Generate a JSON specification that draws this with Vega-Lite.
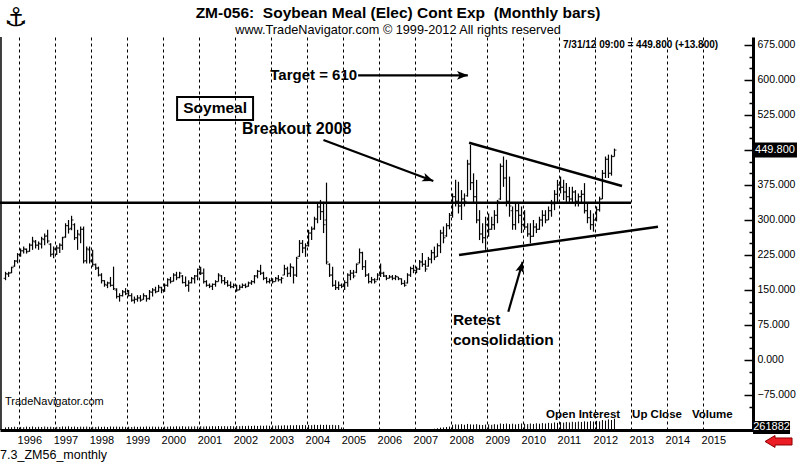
{
"$schema": "https://vega.github.io/schema/vega-lite/v6.json",
"width": 753, "height": 393,
"autosize": {"type": "none"},
"padding": {"left": 0, "top": 37, "right": 48, "bottom": 33},
"background": "white",
"config": {"view": {"stroke": null}, "font": "Liberation Sans"},
"datasets": {
"bars": [
{"d":"1995-08","o":175,"h":189,"l":171,"c":185,"v":60000},
{"d":"1995-09","o":184,"h":189,"l":178,"c":186,"v":70000},
{"d":"1995-10","o":187,"h":200,"l":186,"c":198,"v":65000},
{"d":"1995-11","o":201,"h":214,"l":200,"c":212,"v":75000},
{"d":"1995-12","o":212,"h":229,"l":207,"c":226,"v":68000},
{"d":"1996-01","o":226,"h":239,"l":221,"c":234,"v":72000},
{"d":"1996-02","o":234,"h":243,"l":228,"c":238,"v":64000},
{"d":"1996-03","o":237,"h":239,"l":228,"c":232,"v":78000},
{"d":"1996-04","o":233,"h":250,"l":232,"c":246,"v":70000},
{"d":"1996-05","o":246,"h":264,"l":236,"c":255,"v":82000},
{"d":"1996-06","o":253,"h":257,"l":239,"c":246,"v":66000},
{"d":"1996-07","o":246,"h":254,"l":236,"c":250,"v":75000},
{"d":"1996-08","o":248,"h":264,"l":239,"c":260,"v":70000},
{"d":"1996-09","o":258,"h":271,"l":246,"c":265,"v":80000},
{"d":"1996-10","o":266,"h":279,"l":250,"c":255,"v":72000},
{"d":"1996-11","o":248,"h":250,"l":221,"c":226,"v":76000},
{"d":"1996-12","o":227,"h":243,"l":218,"c":238,"v":68000},
{"d":"1997-01","o":237,"h":246,"l":225,"c":240,"v":74000},
{"d":"1997-02","o":240,"h":250,"l":229,"c":246,"v":70000},
{"d":"1997-03","o":246,"h":264,"l":236,"c":262,"v":82000},
{"d":"1997-04","o":264,"h":293,"l":262,"c":288,"v":76000},
{"d":"1997-05","o":288,"h":300,"l":271,"c":280,"v":85000},
{"d":"1997-06","o":282,"h":309,"l":278,"c":300,"v":72000},
{"d":"1997-07","o":290,"h":293,"l":257,"c":262,"v":80000},
{"d":"1997-08","o":262,"h":279,"l":236,"c":270,"v":70000},
{"d":"1997-09","o":268,"h":286,"l":250,"c":280,"v":78000},
{"d":"1997-10","o":280,"h":286,"l":207,"c":212,"v":74000},
{"d":"1997-11","o":213,"h":243,"l":207,"c":238,"v":80000},
{"d":"1997-12","o":236,"h":243,"l":207,"c":212,"v":72000},
{"d":"1998-01","o":214,"h":236,"l":200,"c":205,"v":76000},
{"d":"1998-02","o":204,"h":207,"l":193,"c":197,"v":70000},
{"d":"1998-03","o":197,"h":200,"l":179,"c":182,"v":80000},
{"d":"1998-04","o":182,"h":186,"l":164,"c":170,"v":72000},
{"d":"1998-05","o":170,"h":171,"l":157,"c":162,"v":78000},
{"d":"1998-06","o":160,"h":168,"l":154,"c":165,"v":70000},
{"d":"1998-07","o":165,"h":178,"l":157,"c":160,"v":82000},
{"d":"1998-08","o":160,"h":200,"l":150,"c":153,"v":76000},
{"d":"1998-09","o":150,"h":154,"l":132,"c":136,"v":80000},
{"d":"1998-10","o":136,"h":143,"l":125,"c":138,"v":74000},
{"d":"1998-11","o":138,"h":150,"l":136,"c":146,"v":78000},
{"d":"1998-12","o":146,"h":154,"l":139,"c":142,"v":72000},
{"d":"1999-01","o":142,"h":150,"l":136,"c":138,"v":76000},
{"d":"1999-02","o":138,"h":143,"l":125,"c":128,"v":70000},
{"d":"1999-03","o":128,"h":136,"l":121,"c":130,"v":80000},
{"d":"1999-04","o":130,"h":139,"l":125,"c":133,"v":72000},
{"d":"1999-05","o":133,"h":139,"l":125,"c":128,"v":78000},
{"d":"1999-06","o":130,"h":143,"l":129,"c":138,"v":74000},
{"d":"1999-07","o":137,"h":139,"l":125,"c":131,"v":82000},
{"d":"1999-08","o":132,"h":150,"l":129,"c":146,"v":76000},
{"d":"1999-09","o":145,"h":154,"l":136,"c":150,"v":80000},
{"d":"1999-10","o":150,"h":157,"l":143,"c":146,"v":74000},
{"d":"1999-11","o":147,"h":161,"l":146,"c":156,"v":78000},
{"d":"1999-12","o":155,"h":157,"l":143,"c":150,"v":72000},
{"d":"2000-01","o":150,"h":164,"l":146,"c":160,"v":80000},
{"d":"2000-02","o":160,"h":175,"l":157,"c":172,"v":76000},
{"d":"2000-03","o":172,"h":178,"l":164,"c":168,"v":84000},
{"d":"2000-04","o":169,"h":186,"l":168,"c":182,"v":78000},
{"d":"2000-05","o":182,"h":189,"l":171,"c":176,"v":86000},
{"d":"2000-06","o":177,"h":189,"l":175,"c":186,"v":80000},
{"d":"2000-07","o":180,"h":182,"l":164,"c":166,"v":88000},
{"d":"2000-08","o":166,"h":179,"l":157,"c":160,"v":78000},
{"d":"2000-09","o":160,"h":171,"l":146,"c":165,"v":84000},
{"d":"2000-10","o":166,"h":178,"l":164,"c":175,"v":80000},
{"d":"2000-11","o":174,"h":182,"l":164,"c":180,"v":86000},
{"d":"2000-12","o":180,"h":196,"l":171,"c":194,"v":82000},
{"d":"2001-01","o":194,"h":200,"l":182,"c":186,"v":88000},
{"d":"2001-02","o":186,"h":196,"l":164,"c":168,"v":80000},
{"d":"2001-03","o":168,"h":171,"l":157,"c":160,"v":86000},
{"d":"2001-04","o":160,"h":164,"l":154,"c":158,"v":82000},
{"d":"2001-05","o":158,"h":164,"l":150,"c":162,"v":90000},
{"d":"2001-06","o":162,"h":171,"l":157,"c":168,"v":84000},
{"d":"2001-07","o":168,"h":186,"l":168,"c":182,"v":92000},
{"d":"2001-08","o":180,"h":182,"l":164,"c":170,"v":86000},
{"d":"2001-09","o":170,"h":178,"l":161,"c":166,"v":90000},
{"d":"2001-10","o":166,"h":171,"l":157,"c":160,"v":84000},
{"d":"2001-11","o":160,"h":168,"l":154,"c":157,"v":92000},
{"d":"2001-12","o":157,"h":164,"l":154,"c":160,"v":86000},
{"d":"2002-01","o":160,"h":161,"l":146,"c":150,"v":94000},
{"d":"2002-02","o":150,"h":161,"l":150,"c":156,"v":88000},
{"d":"2002-03","o":156,"h":164,"l":154,"c":160,"v":96000},
{"d":"2002-04","o":160,"h":164,"l":154,"c":157,"v":90000},
{"d":"2002-05","o":158,"h":168,"l":157,"c":165,"v":98000},
{"d":"2002-06","o":165,"h":171,"l":161,"c":168,"v":92000},
{"d":"2002-07","o":168,"h":182,"l":164,"c":180,"v":100000},
{"d":"2002-08","o":180,"h":193,"l":175,"c":190,"v":94000},
{"d":"2002-09","o":190,"h":204,"l":182,"c":186,"v":102000},
{"d":"2002-10","o":186,"h":189,"l":171,"c":175,"v":96000},
{"d":"2002-11","o":175,"h":178,"l":164,"c":168,"v":104000},
{"d":"2002-12","o":168,"h":175,"l":164,"c":170,"v":98000},
{"d":"2003-01","o":170,"h":175,"l":164,"c":168,"v":104000},
{"d":"2003-02","o":168,"h":178,"l":168,"c":175,"v":100000},
{"d":"2003-03","o":174,"h":182,"l":168,"c":172,"v":108000},
{"d":"2003-04","o":172,"h":178,"l":164,"c":175,"v":102000},
{"d":"2003-05","o":182,"h":204,"l":182,"c":196,"v":110000},
{"d":"2003-06","o":195,"h":200,"l":178,"c":185,"v":104000},
{"d":"2003-07","o":186,"h":207,"l":178,"c":200,"v":112000},
{"d":"2003-08","o":198,"h":200,"l":164,"c":182,"v":106000},
{"d":"2003-09","o":182,"h":221,"l":178,"c":218,"v":114000},
{"d":"2003-10","o":222,"h":257,"l":221,"c":250,"v":108000},
{"d":"2003-11","o":250,"h":257,"l":229,"c":240,"v":116000},
{"d":"2003-12","o":240,"h":250,"l":221,"c":245,"v":110000},
{"d":"2004-01","o":245,"h":279,"l":243,"c":272,"v":118000},
{"d":"2004-02","o":272,"h":286,"l":257,"c":280,"v":112000},
{"d":"2004-03","o":282,"h":307,"l":279,"c":302,"v":120000},
{"d":"2004-04","o":302,"h":336,"l":293,"c":328,"v":114000},
{"d":"2004-05","o":328,"h":343,"l":300,"c":318,"v":122000},
{"d":"2004-06","o":318,"h":339,"l":272,"c":290,"v":116000},
{"d":"2004-07","o":300,"h":380,"l":205,"c":210,"v":120000},
{"d":"2004-08","o":205,"h":207,"l":178,"c":182,"v":112000},
{"d":"2004-09","o":182,"h":200,"l":157,"c":160,"v":118000},
{"d":"2004-10","o":160,"h":171,"l":150,"c":155,"v":110000},
{"d":"2004-11","o":155,"h":168,"l":150,"c":160,"v":114000},
{"d":"2004-12","o":160,"h":164,"l":154,"c":158,"v":60000},
{"d":"2005-01","o":158,"h":171,"l":150,"c":166},
{"d":"2005-02","o":166,"h":186,"l":157,"c":182},
{"d":"2005-03","o":182,"h":193,"l":171,"c":186},
{"d":"2005-04","o":186,"h":193,"l":175,"c":180},
{"d":"2005-05","o":188,"h":207,"l":186,"c":205},
{"d":"2005-06","o":208,"h":239,"l":207,"c":230},
{"d":"2005-07","o":230,"h":232,"l":193,"c":200},
{"d":"2005-08","o":200,"h":214,"l":178,"c":182},
{"d":"2005-09","o":182,"h":186,"l":164,"c":168},
{"d":"2005-10","o":168,"h":178,"l":164,"c":172},
{"d":"2005-11","o":172,"h":175,"l":164,"c":168},
{"d":"2005-12","o":172,"h":186,"l":171,"c":182},
{"d":"2006-01","o":182,"h":207,"l":178,"c":186},
{"d":"2006-02","o":186,"h":189,"l":178,"c":180},
{"d":"2006-03","o":180,"h":182,"l":171,"c":175},
{"d":"2006-04","o":175,"h":182,"l":175,"c":178},
{"d":"2006-05","o":178,"h":182,"l":171,"c":175},
{"d":"2006-06","o":175,"h":182,"l":171,"c":179},
{"d":"2006-07","o":178,"h":178,"l":171,"c":174},
{"d":"2006-08","o":174,"h":175,"l":161,"c":164},
{"d":"2006-09","o":164,"h":171,"l":157,"c":160},
{"d":"2006-10","o":165,"h":186,"l":164,"c":182},
{"d":"2006-11","o":182,"h":200,"l":178,"c":196},
{"d":"2006-12","o":196,"h":204,"l":186,"c":192},
{"d":"2007-01","o":192,"h":200,"l":186,"c":195},
{"d":"2007-02","o":195,"h":214,"l":193,"c":210},
{"d":"2007-03","o":210,"h":229,"l":200,"c":205},
{"d":"2007-04","o":205,"h":214,"l":189,"c":195},
{"d":"2007-05","o":201,"h":221,"l":200,"c":216},
{"d":"2007-06","o":216,"h":236,"l":207,"c":230},
{"d":"2007-07","o":230,"h":243,"l":214,"c":220,"v":30000},
{"d":"2007-08","o":222,"h":250,"l":221,"c":245,"v":40000},
{"d":"2007-09","o":245,"h":279,"l":229,"c":272,"v":55000},
{"d":"2007-10","o":272,"h":286,"l":250,"c":262,"v":60000},
{"d":"2007-11","o":266,"h":293,"l":264,"c":288,"v":70000},
{"d":"2007-12","o":288,"h":315,"l":280,"c":310,"v":80000},
{"d":"2008-01","o":310,"h":357,"l":305,"c":350,"v":120000},
{"d":"2008-02","o":350,"h":386,"l":329,"c":340,"v":130000},
{"d":"2008-03","o":340,"h":382,"l":314,"c":330,"v":125000},
{"d":"2008-04","o":330,"h":364,"l":300,"c":345,"v":135000},
{"d":"2008-05","o":345,"h":357,"l":329,"c":340,"v":120000},
{"d":"2008-06","o":352,"h":429,"l":350,"c":420,"v":140000},
{"d":"2008-07","o":420,"h":461,"l":364,"c":380,"v":130000},
{"d":"2008-08","o":380,"h":400,"l":336,"c":350,"v":125000},
{"d":"2008-09","o":350,"h":386,"l":293,"c":300,"v":135000},
{"d":"2008-10","o":300,"h":321,"l":257,"c":270,"v":120000},
{"d":"2008-11","o":270,"h":293,"l":250,"c":262,"v":115000},
{"d":"2008-12","o":262,"h":307,"l":236,"c":290,"v":125000},
{"d":"2009-01","o":290,"h":314,"l":264,"c":280,"v":130000},
{"d":"2009-02","o":280,"h":307,"l":279,"c":290,"v":120000},
{"d":"2009-03","o":290,"h":321,"l":279,"c":310,"v":135000},
{"d":"2009-04","o":310,"h":343,"l":293,"c":340,"v":125000},
{"d":"2009-05","o":345,"h":421,"l":343,"c":415,"v":150000},
{"d":"2009-06","o":415,"h":436,"l":371,"c":390,"v":140000},
{"d":"2009-07","o":390,"h":429,"l":329,"c":340,"v":150000},
{"d":"2009-08","o":340,"h":393,"l":307,"c":330,"v":135000},
{"d":"2009-09","o":320,"h":329,"l":279,"c":290,"v":145000},
{"d":"2009-10","o":290,"h":336,"l":279,"c":320,"v":130000},
{"d":"2009-11","o":320,"h":336,"l":293,"c":310,"v":140000},
{"d":"2009-12","o":310,"h":329,"l":272,"c":290,"v":150000},
{"d":"2010-01","o":290,"h":321,"l":279,"c":285,"v":145000},
{"d":"2010-02","o":285,"h":293,"l":264,"c":270,"v":135000},
{"d":"2010-03","o":270,"h":293,"l":250,"c":265,"v":150000},
{"d":"2010-04","o":265,"h":300,"l":264,"c":285,"v":140000},
{"d":"2010-05","o":285,"h":293,"l":272,"c":280,"v":155000},
{"d":"2010-06","o":280,"h":307,"l":279,"c":300,"v":145000},
{"d":"2010-07","o":300,"h":321,"l":286,"c":310,"v":160000},
{"d":"2010-08","o":310,"h":321,"l":293,"c":300,"v":150000},
{"d":"2010-09","o":300,"h":329,"l":300,"c":320,"v":165000},
{"d":"2010-10","o":320,"h":343,"l":307,"c":335,"v":155000},
{"d":"2010-11","o":335,"h":364,"l":321,"c":355,"v":175000},
{"d":"2010-12","o":355,"h":386,"l":336,"c":375,"v":165000},
{"d":"2011-01","o":375,"h":393,"l":357,"c":370,"v":180000},
{"d":"2011-02","o":370,"h":386,"l":343,"c":360,"v":170000},
{"d":"2011-03","o":360,"h":379,"l":336,"c":350,"v":185000},
{"d":"2011-04","o":350,"h":371,"l":336,"c":345,"v":175000},
{"d":"2011-05","o":345,"h":371,"l":336,"c":360,"v":190000},
{"d":"2011-06","o":360,"h":364,"l":329,"c":340,"v":180000},
{"d":"2011-07","o":340,"h":357,"l":329,"c":350,"v":195000},
{"d":"2011-08","o":350,"h":364,"l":336,"c":355,"v":185000},
{"d":"2011-09","o":355,"h":379,"l":314,"c":320,"v":200000},
{"d":"2011-10","o":320,"h":336,"l":293,"c":305,"v":190000},
{"d":"2011-11","o":305,"h":321,"l":279,"c":290,"v":205000},
{"d":"2011-12","o":290,"h":314,"l":275,"c":300,"v":195000},
{"d":"2012-01","o":300,"h":329,"l":297,"c":322,"v":210000},
{"d":"2012-02","o":322,"h":350,"l":318,"c":345,"v":200000},
{"d":"2012-03","o":345,"h":407,"l":345,"c":400,"v":230000},
{"d":"2012-04","o":400,"h":436,"l":390,"c":430,"v":215000},
{"d":"2012-05","o":430,"h":440,"l":390,"c":400,"v":245000},
{"d":"2012-06","o":400,"h":440,"l":395,"c":436,"v":230000},
{"d":"2012-07","o":436,"h":453,"l":436,"c":449.8,"v":261882}
],
"tl": [
{"x":"1995-06-21","x2":"2013-01-01","y":337,"y2":337},
{"x":"2008-07-02","x2":"2012-10-01","y":465.6,"y2":372.9},
{"x":"2008-03-22","x2":"2013-10-01","y":225,"y2":285.6}
],
"ar": [
{"x":"2005-06-02","x2":"2008-06-19","y":610,"y2":610},
{"x":"2004-06-15","x2":"2007-07-05","y":471.4,"y2":383.6},
{"x":"2009-08-04","x2":"2009-12-28","y":103.5,"y2":210.6}
]
},
"layer": [
{
"resolve": {"scale": {"x": "shared", "y": "shared"}, "axis": {"x": "independent", "y": "independent"}},
"layer": [
{"data": {"name": "bars"},
 "mark": {"type": "rule", "color": "black", "strokeWidth": 1.2, "xOffset": 1.5},
 "encoding": {
  "x": {"field": "d", "type": "temporal",
        "scale": {"domain": [{"year":1995,"month":6,"date":21},{"year":2016,"month":5,"date":22}]},
        "axis": {"orient": "bottom", "title": null, "format": "%Y",
                 "values": [{"year":1996},{"year":1997},{"year":1998},{"year":1999},{"year":2000},{"year":2001},{"year":2002},{"year":2003},{"year":2004},{"year":2005},{"year":2006},{"year":2007},{"year":2008},{"year":2009},{"year":2010},{"year":2011},{"year":2012},{"year":2013},{"year":2014},{"year":2015}],
                 "grid": true, "gridColor": "black", "gridDash": [3,3], "gridWidth": 1, "gridOpacity": 1,
                 "domainColor": "black", "domainWidth": 3, "ticks": false, "tickSize": 0,
                 "labelAlign": "left", "labelOffset": -2, "labelPadding": 4, "labelFontSize": 11, "labelColor": "black",
                 "labelOverlap": false, "labelBound": false, "labelFlush": false}},
  "y": {"field": "l", "type": "quantitative",
        "scale": {"domain": [-150, 692.1], "nice": false, "zero": false},
        "axis": {"orient": "right", "title": null,
                 "values": [-100,-75,-50,-25,0,25,50,75,100,125,150,175,200,225,250,275,300,325,350,375,400,425,450,475,500,525,550,575,600,625,650,675],
                 "labelExpr": "datum.value % 75 === 0 && datum.value !== 450 ? format(datum.value, '.3f') : ''",
                 "domainColor": "black", "domainWidth": 3, "tickColor": "black", "tickWidth": 1.5,
                 "tickSize": {"condition": {"test": "datum.value % 75 === 0", "value": -9}, "value": -4},
                 "labelPadding": 13, "labelFontSize": 10.5, "labelColor": "black", "labelBaseline": "middle",
                 "grid": false, "labelOverlap": false, "labelBound": false, "labelFlush": false}},
  "y2": {"field": "h"}
 }},
{"data": {"name": "bars"},
 "mark": {"type": "tick", "orient": "horizontal", "color": "black", "size": 2, "thickness": 1.2, "xOffset": 0.5},
 "encoding": {"x": {"field": "d", "type": "temporal", "axis": null}, "y": {"field": "o", "type": "quantitative", "axis": null}}},
{"data": {"name": "bars"},
 "mark": {"type": "tick", "orient": "horizontal", "color": "black", "size": 2, "thickness": 1.2, "xOffset": 2.5},
 "encoding": {"x": {"field": "d", "type": "temporal", "axis": null}, "y": {"field": "c", "type": "quantitative", "axis": null}}},
{"data": {"name": "tl"},
 "mark": {"type": "rule", "color": "black", "strokeWidth": 2.5},
 "encoding": {"x": {"field": "x", "type": "temporal", "axis": null}, "x2": {"field": "x2"}, "y": {"field": "y", "type": "quantitative", "axis": null}, "y2": {"field": "y2"}}},
{"data": {"name": "ar"},
 "mark": {"type": "rule", "color": "black", "strokeWidth": 2.2},
 "encoding": {"x": {"field": "x", "type": "temporal", "axis": null}, "x2": {"field": "x2"}, "y": {"field": "y", "type": "quantitative", "axis": null}, "y2": {"field": "y2"}}},
{"data": {"values": [{}]},
 "mark": {"type": "rule", "color": "black", "strokeWidth": 1.5},
 "encoding": {"x": {"datum": {"year":1995,"month":7,"date":1}, "type": "temporal", "axis": null}}},
{"data": {"values": [{}]},
 "mark": {"type": "point", "shape": "M 0 0 L 0.4 1 L 0 0.75 L -0.4 1 Z", "filled": true, "color": "black", "opacity": 1, "size": 484, "angle": 90},
 "encoding": {"x": {"datum": {"year":2008,"month":6,"date":21}, "type": "temporal", "axis": null}, "y": {"datum": 610, "type": "quantitative", "axis": null}}},
{"data": {"values": [{}]},
 "mark": {"type": "point", "shape": "M 0 0 L 0.4 1 L 0 0.75 L -0.4 1 Z", "filled": true, "color": "black", "opacity": 1, "size": 484, "angle": 110.4},
 "encoding": {"x": {"datum": {"year":2007,"month":7,"date":5}, "type": "temporal", "axis": null}, "y": {"datum": 383.6, "type": "quantitative", "axis": null}}},
{"data": {"values": [{}]},
 "mark": {"type": "point", "shape": "M 0 0 L 0.4 1 L 0 0.75 L -0.4 1 Z", "filled": true, "color": "black", "opacity": 1, "size": 484, "angle": 16.1},
 "encoding": {"x": {"datum": {"year":2009,"month":12,"date":28}, "type": "temporal", "axis": null}, "y": {"datum": 210.6, "type": "quantitative", "axis": null}}},
{"data": {"values": [{}]},
 "mark": {"type": "rect", "fill": "white", "fillOpacity": 0, "stroke": "black", "strokeWidth": 2},
 "encoding": {"x": {"datum": {"year":2000,"month":5,"date":22}, "type": "temporal", "axis": null}, "x2": {"datum": {"year":2002,"month":7,"date":2}}, "y": {"datum": 563.6, "type": "quantitative", "axis": null}, "y2": {"datum": 514.3}}},
{"data": {"values": [{}]},
 "mark": {"type": "text", "text": "Soymeal", "fontSize": 15.5, "fontWeight": "bold", "align": "center", "baseline": "middle", "color": "black"},
 "encoding": {"x": {"datum": {"year":2001,"month":6,"date":12}, "type": "temporal", "axis": null}, "y": {"datum": 539, "type": "quantitative", "axis": null}}},
{"data": {"values": [{}]},
 "mark": {"type": "text", "text": "Target = 610", "fontSize": 15, "fontWeight": "bold", "align": "right", "baseline": "middle", "color": "black", "dx": -1},
 "encoding": {"x": {"datum": {"year":2005,"month":6,"date":2}, "type": "temporal", "axis": null}, "y": {"datum": 610, "type": "quantitative", "axis": null}}},
{"data": {"values": [{}]},
 "mark": {"type": "text", "text": "Breakout 2008", "fontSize": 16, "fontWeight": "bold", "align": "left", "baseline": "middle", "color": "black"},
 "encoding": {"x": {"datum": {"year":2002,"month":3,"date":12}, "type": "temporal", "axis": null}, "y": {"datum": 495, "type": "quantitative", "axis": null}}},
{"data": {"values": [{}]},
 "mark": {"type": "text", "text": "Retest", "fontSize": 15.5, "fontWeight": "bold", "align": "left", "baseline": "middle", "color": "black"},
 "encoding": {"x": {"datum": {"year":2008,"month":1,"date":20}, "type": "temporal", "axis": null}, "y": {"datum": 85.7, "type": "quantitative", "axis": null}}},
{"data": {"values": [{}]},
 "mark": {"type": "text", "text": "consolidation", "fontSize": 15.5, "fontWeight": "bold", "align": "left", "baseline": "middle", "color": "black"},
 "encoding": {"x": {"datum": {"year":2008,"month":1,"date":20}, "type": "temporal", "axis": null}, "y": {"datum": 42.9, "type": "quantitative", "axis": null}}},
{"data": {"values": [{}]},
 "mark": {"type": "text", "text": "7/31/12 09:00 = 449.800 (+13.800)", "fontSize": 10, "fontWeight": "bold", "align": "left", "baseline": "middle", "color": "black"},
 "encoding": {"x": {"datum": {"year":2011,"month":2,"date":10}, "type": "temporal", "axis": null}, "y": {"datum": 675, "type": "quantitative", "axis": null}}},
{"data": {"values": [{}]},
 "mark": {"type": "text", "text": "TradeNavigator.com", "fontSize": 11, "align": "left", "baseline": "middle", "color": "black"},
 "encoding": {"x": {"datum": {"year":1995,"month":8,"date":11}, "type": "temporal", "axis": null}, "y": {"datum": -90, "type": "quantitative", "axis": null}}},
{"data": {"values": [{}]},
 "mark": {"type": "text", "text": "Open Interest", "fontSize": 11.5, "fontWeight": "bold", "align": "left", "baseline": "middle", "color": "black"},
 "encoding": {"x": {"datum": {"year":2010,"month":8,"date":22}, "type": "temporal", "axis": null}, "y": {"datum": -117.9, "type": "quantitative", "axis": null}}},
{"data": {"values": [{}]},
 "mark": {"type": "text", "text": "Up Close", "fontSize": 11.5, "fontWeight": "bold", "align": "left", "baseline": "middle", "color": "black"},
 "encoding": {"x": {"datum": {"year":2013,"month":1,"date":11}, "type": "temporal", "axis": null}, "y": {"datum": -117.9, "type": "quantitative", "axis": null}}},
{"data": {"values": [{}]},
 "mark": {"type": "text", "text": "Volume", "fontSize": 11.5, "fontWeight": "bold", "align": "left", "baseline": "middle", "color": "black"},
 "encoding": {"x": {"datum": {"year":2014,"month":9,"date":11}, "type": "temporal", "axis": null}, "y": {"datum": -117.9, "type": "quantitative", "axis": null}}},
{"data": {"values": [{}]},
 "mark": {"type": "text", "text": "7.3_ZM56_monthly", "fontSize": 12.5, "align": "left", "baseline": "middle", "color": "black", "clip": false},
 "encoding": {"x": {"datum": {"year":1995,"month":6,"date":22}, "type": "temporal", "axis": null}, "y": {"datum": -203.6, "type": "quantitative", "axis": null}}},
{"data": {"values": [{}]},
 "mark": {"type": "text", "text": "ZM-056:\u00a0 Soybean Meal (Elec) Cont Exp\u00a0 (Monthly bars)", "fontSize": 15.5, "fontWeight": "bold", "align": "center", "baseline": "middle", "color": "black", "clip": false},
 "encoding": {"x": {"datum": {"year":2006,"month":7,"date":12}, "type": "temporal", "axis": null}, "y": {"datum": 743.6, "type": "quantitative", "axis": null}}},
{"data": {"values": [{}]},
 "mark": {"type": "text", "text": "www.TradeNavigator.com © 1999-2012 All rights reserved", "fontSize": 12.7, "align": "center", "baseline": "middle", "color": "black", "clip": false},
 "encoding": {"x": {"datum": {"year":2006,"month":7,"date":12}, "type": "temporal", "axis": null}, "y": {"datum": 707.1, "type": "quantitative", "axis": null}}},
{"data": {"values": [{}]},
 "mark": {"type": "text", "text": "⚓", "fontSize": 26, "font": "DejaVu Sans", "align": "center", "baseline": "middle", "color": "black", "clip": false},
 "encoding": {"x": {"datum": {"year":1995,"month":11,"date":30}, "type": "temporal", "axis": null}, "y": {"datum": 733, "type": "quantitative", "axis": null}}},
{"data": {"values": [{}]},
 "mark": {"type": "tick", "orient": "horizontal", "color": "black", "size": 44, "thickness": 15, "opacity": 1, "clip": false},
 "encoding": {"x": {"datum": {"year":2016,"month":12,"date":31}, "type": "temporal", "axis": null}, "y": {"datum": 449.8, "type": "quantitative", "axis": null}}},
{"data": {"values": [{}]},
 "mark": {"type": "text", "text": "449.800", "fontSize": 11, "align": "center", "baseline": "middle", "color": "white", "clip": false},
 "encoding": {"x": {"datum": {"year":2016,"month":12,"date":31}, "type": "temporal", "axis": null}, "y": {"datum": 449.8, "type": "quantitative", "axis": null}}},
{"data": {"values": [{}]},
 "mark": {"type": "tick", "orient": "horizontal", "color": "black", "size": 37, "thickness": 13, "opacity": 1, "clip": false},
 "encoding": {"x": {"datum": {"year":2016,"month":11,"date":26}, "type": "temporal", "axis": null}, "y": {"datum": -144.6, "type": "quantitative", "axis": null}}},
{"data": {"values": [{}]},
 "mark": {"type": "text", "text": "261882", "fontSize": 11, "align": "center", "baseline": "middle", "color": "white", "clip": false},
 "encoding": {"x": {"datum": {"year":2016,"month":11,"date":26}, "type": "temporal", "axis": null}, "y": {"datum": -144.6, "type": "quantitative", "axis": null}}},
{"data": {"values": [{}]},
 "mark": {"type": "point", "shape": "M -1 0 L -0.26 -0.44 L -0.26 -0.26 L 1 -0.26 L 1 0.26 L -0.26 0.26 L -0.26 0.44 Z", "filled": true, "fill": "#ec1c24", "stroke": "#8b0000", "strokeWidth": 1, "opacity": 1, "size": 729, "clip": false},
 "encoding": {"x": {"datum": {"year":2017,"month":2,"date":5}, "type": "temporal", "axis": null}, "y": {"datum": -174.6, "type": "quantitative", "axis": null}}}
]
},
{"data": {"name": "bars"},
 "mark": {"type": "rule", "color": "black", "strokeWidth": 1, "xOffset": 1.5},
 "encoding": {
  "x": {"field": "d", "type": "temporal", "axis": null, "scale": {"domain": [{"year":1995,"month":6,"date":21},{"year":2016,"month":5,"date":22}]}},
  "y": {"field": "v", "type": "quantitative", "scale": {"domain": [0, 300000], "range": [393, 380], "nice": false}, "axis": null},
  "y2": {"datum": 0}
 }}
],
"resolve": {"scale": {"y": "independent"}, "axis": {"x": "independent", "y": "independent"}}
}
